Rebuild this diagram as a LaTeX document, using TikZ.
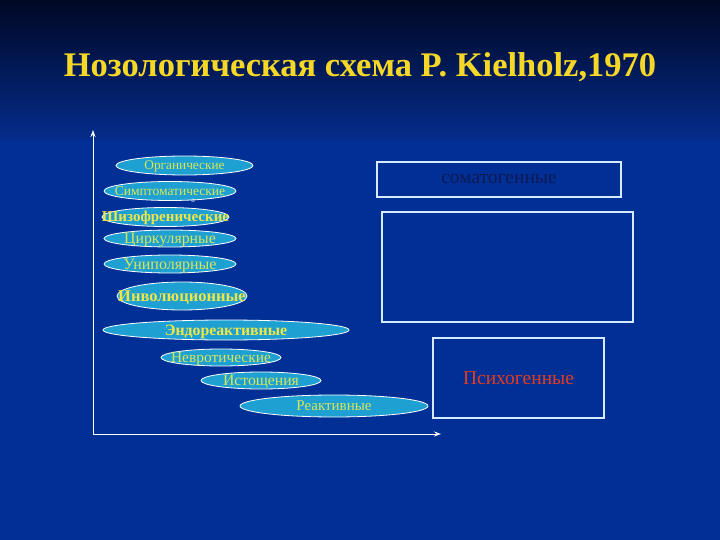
\documentclass[tikz,border=0pt]{standalone}
\usepackage{fontspec}
\setmainfont{Liberation Serif}
\usetikzlibrary{arrows.meta,shapes.geometric}
\definecolor{bgtop}{RGB}{0,8,36}
\definecolor{bgmid}{RGB}{4,44,140}
\definecolor{bgbot}{RGB}{0,48,150}
\definecolor{ellfill}{RGB}{30,160,210}
\definecolor{elltext}{RGB}{215,230,90}
\definecolor{belltext}{RGB}{240,230,70}
\definecolor{titlecol}{RGB}{245,215,40}
\definecolor{somacol}{RGB}{15,25,85}
\definecolor{psycol}{RGB}{230,60,30}
\definecolor{boxline}{RGB}{215,235,255}
% text that does not widen its ellipse
\newcommand{\etext}[1]{\raisebox{-.33em}[0pt][0pt]{\makebox[0pt]{#1}}}
\tikzset{
  ell/.style={ellipse, draw=white, line width=.8pt, fill=ellfill, inner sep=0pt,
    text=elltext, font=\fontsize{#1}{#1}\selectfont},
  bell/.style={ell=#1, text=belltext, font=\fontsize{#1}{#1}\selectfont\bfseries},
  catbox/.style={draw=boxline, line width=1.4pt, inner sep=0pt,
    font=\fontsize{19.5}{20}\selectfont},
  axis/.style={white, line width=1pt, -{Stealth[length=7pt,width=5pt]}}
}
\begin{document}
\begin{tikzpicture}[x=1pt,y=-1pt]

\shade[top color=bgtop, bottom color=bgmid] (0,0) rectangle (720,140);
\fill[bgbot] (0,140) rectangle (720,540);

\node[text=titlecol, font=\fontsize{34.5}{36}\selectfont\bfseries] (title) at (360,67)
  {Нозологическая схема P. Kielholz,1970};

\coordinate (origin) at (93,434);
\coordinate (ytop)   at (93,130);
\coordinate (xend)   at (441,434);
\draw[axis] (origin) -- (ytop);
\draw[axis] (origin) -- (xend);

\node[ell=13.3, minimum width=137, minimum height=19] (org)   at (184.5,165.5) {\etext{Органические}};
\node[ell=13.5, minimum width=132, minimum height=19] (symp)  at (170,191)     {\etext{Симптоматические}};
\node[text=white, inner sep=0pt, font=\fontsize{7}{7}\selectfont] (dot) at (193,201) {о};
\node[bell=15,  minimum width=127, minimum height=19] (schiz) at (165.5,217)   {\etext{Шизофренические}};
\node[ell=15.8, minimum width=132, minimum height=17] (circ)  at (170,238.5)   {\etext{Циркулярные}};
\node[ell=16,   minimum width=132, minimum height=18] (unip)  at (170,264)     {\etext{Униполярные}};
\node[bell=16.5,minimum width=130, minimum height=28] (invol) at (182,296)     {\etext{Инволюционные}};
\node[bell=15.8,minimum width=246, minimum height=20] (endo)  at (226,330)     {\etext{Эндореактивные}};
\node[ell=15.4, minimum width=120, minimum height=17] (neur)  at (221,357.5)   {\etext{Невротические}};
\node[ell=15.7, minimum width=120, minimum height=17] (exh)   at (261,380.5)   {\etext{Истощения}};
\node[ell=15,   minimum width=188, minimum height=22] (react) at (334,406)     {\etext{Реактивные}};

\node[catbox, minimum width=244, minimum height=35, text=somacol] (soma) at (499,179.5) {соматогенные};
\node[catbox, minimum width=251, minimum height=110] (endog) at (507.5,267) {};
\node[catbox, minimum width=171, minimum height=80, text=psycol] (psych) at (518.5,378) {Психогенные};

\end{tikzpicture}
\end{document}
